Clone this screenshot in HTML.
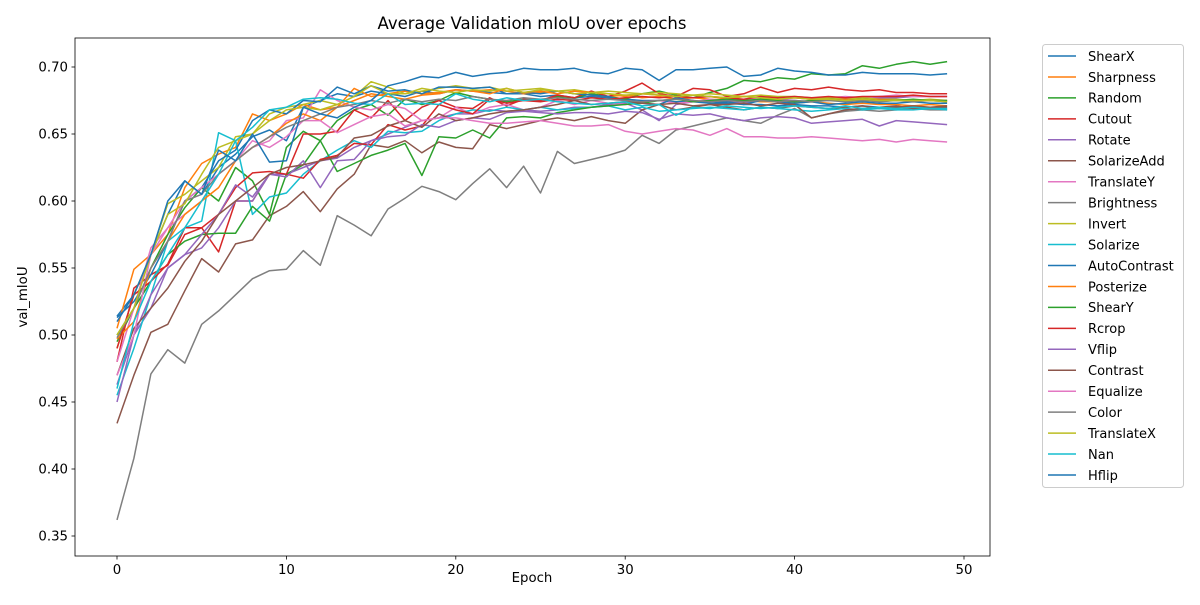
<!DOCTYPE html>
<html><head><meta charset="utf-8"><style>
body{margin:0;background:#fff;}
svg{font-family:"DejaVu Sans","Liberation Sans",sans-serif;}
</style></head><body>
<svg id="c" width="1200" height="600" xmlns="http://www.w3.org/2000/svg"></svg>
<script>
const epochs = Array.from({length:50},(_, i)=>i);
const seriesNames = ["ShearX","Sharpness","Random","Cutout","Rotate","SolarizeAdd","TranslateY","Brightness","Invert","Solarize","AutoContrast","Posterize","ShearY","Rcrop","Vflip","Contrast","Equalize","Color","TranslateX","Nan","Hflip"];
const sShearX=[0.514,0.53,0.56,0.59,0.615,0.605,0.625,0.635,0.648,0.653,0.645,0.67,0.675,0.68,0.678,0.682,0.68,0.678,0.682,0.68,0.683,0.682,0.681,0.68,0.68,0.678,0.679,0.677,0.678,0.677,0.676,0.675,0.675,0.674,0.674,0.673,0.673,0.672,0.672,0.671,0.672,0.671,0.671,0.670,0.671,0.670,0.670,0.670,0.669,0.669];
const sSharpness=[0.505,0.549,0.56,0.575,0.61,0.628,0.635,0.64,0.665,0.66,0.665,0.672,0.668,0.67,0.684,0.678,0.68,0.682,0.68,0.681,0.683,0.682,0.683,0.682,0.68,0.681,0.682,0.68,0.679,0.678,0.679,0.677,0.678,0.676,0.677,0.676,0.675,0.675,0.674,0.674,0.673,0.674,0.673,0.672,0.673,0.672,0.672,0.671,0.672,0.671];
const sRandom=[0.495,0.52,0.55,0.575,0.595,0.61,0.6,0.625,0.615,0.59,0.64,0.652,0.645,0.66,0.668,0.672,0.664,0.676,0.672,0.675,0.681,0.678,0.676,0.674,0.676,0.675,0.678,0.677,0.68,0.678,0.676,0.68,0.682,0.679,0.677,0.681,0.684,0.69,0.689,0.692,0.691,0.695,0.694,0.695,0.701,0.699,0.702,0.704,0.702,0.704];
const sCutout=[0.48,0.535,0.545,0.552,0.575,0.58,0.562,0.6,0.6,0.62,0.62,0.65,0.65,0.652,0.668,0.662,0.675,0.66,0.67,0.675,0.67,0.669,0.677,0.671,0.676,0.675,0.679,0.677,0.682,0.678,0.682,0.688,0.68,0.678,0.684,0.683,0.678,0.68,0.685,0.681,0.684,0.683,0.685,0.683,0.682,0.683,0.681,0.681,0.680,0.680];
const sRotate=[0.463,0.5,0.52,0.55,0.56,0.565,0.58,0.6,0.6,0.62,0.62,0.625,0.63,0.632,0.64,0.645,0.65,0.655,0.66,0.662,0.665,0.665,0.668,0.667,0.668,0.667,0.668,0.670,0.67,0.672,0.673,0.668,0.66,0.672,0.674,0.675,0.674,0.673,0.675,0.676,0.675,0.674,0.676,0.677,0.676,0.677,0.677,0.678,0.678,0.678];
const sSolarizeAdd=[0.434,0.47,0.502,0.508,0.533,0.557,0.547,0.568,0.571,0.589,0.596,0.607,0.592,0.609,0.620,0.642,0.640,0.645,0.636,0.644,0.640,0.639,0.657,0.654,0.657,0.66,0.662,0.66,0.663,0.66,0.658,0.668,0.672,0.668,0.67,0.672,0.67,0.668,0.67,0.669,0.671,0.67,0.669,0.67,0.671,0.669,0.67,0.671,0.67,0.671];
const sTranslateY=[0.48,0.52,0.565,0.58,0.59,0.6,0.62,0.63,0.64,0.645,0.66,0.662,0.683,0.675,0.67,0.668,0.672,0.669,0.66,0.662,0.67,0.665,0.67,0.672,0.668,0.67,0.675,0.672,0.675,0.673,0.672,0.674,0.675,0.673,0.674,0.676,0.675,0.676,0.677,0.676,0.677,0.676,0.677,0.678,0.677,0.678,0.679,0.678,0.678,0.678];
const sBrightness=[0.362,0.408,0.471,0.489,0.479,0.508,0.518,0.530,0.542,0.548,0.549,0.563,0.552,0.589,0.582,0.574,0.594,0.602,0.611,0.607,0.601,0.613,0.624,0.610,0.626,0.606,0.637,0.628,0.631,0.634,0.638,0.649,0.643,0.653,0.656,0.659,0.662,0.660,0.658,0.664,0.669,0.662,0.665,0.667,0.668,0.667,0.668,0.669,0.668,0.668];
const sInvert=[0.49,0.53,0.56,0.598,0.605,0.615,0.625,0.648,0.65,0.665,0.67,0.672,0.675,0.672,0.678,0.689,0.685,0.68,0.682,0.684,0.686,0.684,0.685,0.682,0.683,0.684,0.682,0.683,0.681,0.682,0.681,0.68,0.681,0.680,0.679,0.680,0.679,0.678,0.679,0.678,0.678,0.677,0.677,0.676,0.677,0.676,0.676,0.675,0.676,0.675];
const sSolarize=[0.455,0.49,0.53,0.57,0.58,0.585,0.651,0.645,0.59,0.603,0.606,0.62,0.63,0.638,0.645,0.64,0.652,0.651,0.652,0.66,0.665,0.668,0.667,0.67,0.668,0.67,0.668,0.669,0.67,0.671,0.668,0.67,0.667,0.668,0.669,0.67,0.669,0.668,0.67,0.669,0.668,0.667,0.668,0.669,0.668,0.669,0.668,0.668,0.669,0.668];
const sAutoContrast=[0.513,0.525,0.545,0.57,0.6,0.61,0.63,0.638,0.66,0.668,0.665,0.675,0.674,0.685,0.68,0.686,0.682,0.683,0.68,0.685,0.685,0.684,0.685,0.68,0.681,0.68,0.682,0.68,0.679,0.678,0.675,0.673,0.672,0.677,0.675,0.673,0.674,0.672,0.675,0.674,0.673,0.674,0.672,0.673,0.674,0.673,0.673,0.674,0.673,0.673];
const sPosterize=[0.497,0.51,0.55,0.57,0.59,0.6,0.61,0.63,0.64,0.648,0.658,0.665,0.66,0.67,0.675,0.68,0.678,0.676,0.679,0.68,0.683,0.682,0.68,0.684,0.681,0.682,0.68,0.682,0.681,0.68,0.678,0.68,0.679,0.678,0.677,0.678,0.676,0.678,0.677,0.676,0.677,0.676,0.675,0.676,0.675,0.676,0.675,0.675,0.675,0.675];
const sShearY=[0.5,0.52,0.54,0.56,0.57,0.575,0.576,0.576,0.596,0.585,0.62,0.627,0.645,0.622,0.628,0.634,0.638,0.643,0.619,0.648,0.647,0.653,0.647,0.662,0.663,0.662,0.666,0.668,0.670,0.671,0.672,0.673,0.675,0.676,0.674,0.675,0.676,0.675,0.676,0.675,0.674,0.675,0.676,0.675,0.676,0.675,0.675,0.676,0.675,0.675];
const sRcrop=[0.49,0.53,0.54,0.553,0.58,0.58,0.59,0.61,0.621,0.622,0.62,0.617,0.631,0.634,0.643,0.642,0.657,0.653,0.656,0.672,0.668,0.665,0.676,0.673,0.675,0.674,0.676,0.675,0.677,0.676,0.677,0.678,0.677,0.678,0.677,0.678,0.677,0.676,0.678,0.677,0.678,0.677,0.678,0.677,0.678,0.678,0.678,0.679,0.678,0.678];
const sVflip=[0.45,0.5,0.53,0.55,0.56,0.575,0.59,0.612,0.603,0.62,0.618,0.63,0.61,0.63,0.631,0.645,0.648,0.649,0.657,0.655,0.66,0.662,0.661,0.666,0.667,0.666,0.665,0.666,0.666,0.665,0.667,0.666,0.661,0.665,0.664,0.665,0.662,0.66,0.662,0.663,0.662,0.658,0.659,0.66,0.661,0.656,0.66,0.659,0.658,0.657];
const sContrast=[0.47,0.505,0.52,0.535,0.555,0.57,0.59,0.6,0.61,0.62,0.625,0.627,0.63,0.633,0.647,0.649,0.656,0.66,0.655,0.665,0.66,0.662,0.665,0.667,0.668,0.67,0.672,0.675,0.672,0.673,0.674,0.673,0.672,0.673,0.671,0.672,0.672,0.673,0.671,0.673,0.672,0.662,0.665,0.668,0.669,0.67,0.671,0.669,0.67,0.67];
const sEqualize=[0.47,0.5,0.56,0.58,0.6,0.61,0.62,0.63,0.645,0.64,0.648,0.66,0.66,0.651,0.657,0.663,0.665,0.656,0.66,0.662,0.662,0.66,0.658,0.658,0.659,0.66,0.658,0.656,0.656,0.657,0.652,0.65,0.652,0.654,0.653,0.649,0.654,0.648,0.648,0.647,0.647,0.648,0.647,0.646,0.645,0.646,0.644,0.646,0.645,0.644];
const sColor=[0.498,0.52,0.55,0.57,0.6,0.605,0.62,0.63,0.64,0.648,0.655,0.66,0.665,0.67,0.672,0.675,0.673,0.676,0.674,0.676,0.675,0.678,0.676,0.675,0.677,0.676,0.677,0.676,0.675,0.676,0.675,0.674,0.675,0.676,0.675,0.674,0.675,0.674,0.675,0.674,0.675,0.674,0.675,0.674,0.675,0.674,0.675,0.674,0.675,0.674];
const sTranslateX=[0.5,0.52,0.56,0.59,0.598,0.62,0.64,0.645,0.65,0.66,0.668,0.67,0.668,0.672,0.678,0.686,0.68,0.68,0.684,0.682,0.681,0.683,0.682,0.684,0.681,0.683,0.682,0.68,0.681,0.68,0.679,0.68,0.679,0.678,0.679,0.678,0.677,0.678,0.677,0.676,0.677,0.676,0.676,0.675,0.676,0.675,0.675,0.675,0.675,0.674];
const sNan=[0.46,0.51,0.54,0.56,0.58,0.6,0.62,0.645,0.655,0.668,0.67,0.676,0.677,0.676,0.673,0.672,0.68,0.672,0.673,0.672,0.68,0.676,0.674,0.677,0.675,0.676,0.674,0.673,0.672,0.673,0.674,0.671,0.672,0.664,0.67,0.669,0.671,0.67,0.669,0.67,0.671,0.67,0.669,0.671,0.669,0.67,0.669,0.67,0.669,0.669];
const sHflip=[0.51,0.53,0.56,0.6,0.615,0.605,0.638,0.63,0.65,0.629,0.63,0.67,0.665,0.662,0.67,0.675,0.686,0.689,0.693,0.692,0.696,0.693,0.695,0.696,0.699,0.698,0.698,0.699,0.696,0.695,0.699,0.698,0.69,0.698,0.698,0.699,0.700,0.693,0.694,0.699,0.697,0.696,0.694,0.694,0.696,0.695,0.695,0.695,0.694,0.695];
const seriesValues=[sShearX,sSharpness,sRandom,sCutout,sRotate,sSolarizeAdd,sTranslateY,sBrightness,sInvert,sSolarize,sAutoContrast,sPosterize,sShearY,sRcrop,sVflip,sContrast,sEqualize,sColor,sTranslateX,sNan,sHflip];
const yTicks=[0.35,0.40,0.45,0.50,0.55,0.60,0.65,0.70];
const yTickLabels=["0.35","0.40","0.45","0.50","0.55","0.60","0.65","0.70"];
const xTicks=[0,10,20,30,40,50];

const palette=["#1f77b4","#ff7f0e","#2ca02c","#d62728","#9467bd","#8c564b","#e377c2","#7f7f7f","#bcbd22","#17becf"];
const L=75,R=990,T=38,B=556;
const xs=v=>117+v*16.94;
const ys=v=>67+(0.70-v)*1340;
const svg=document.getElementById('c');
const NS="http://www.w3.org/2000/svg";
function mk(tag,attrs,parent){const e=document.createElementNS(NS,tag);for(const k in attrs)e.setAttribute(k,attrs[k]);(parent||svg).appendChild(e);return e;}

const title=mk('text',{x:532,y:29,'text-anchor':'middle','font-size':16.5,fill:'#000'});
title.textContent="Average Validation mIoU over epochs";



const clip=mk('clipPath',{id:'pc'});mk('rect',{x:L,y:T,width:R-L,height:B-T},clip);

const lines=mk('g',{'clip-path':'url(#pc)'});


seriesValues.forEach((vals,i)=>{
  const d=vals.map((v,j)=>(j?'L':'M')+xs(epochs[j]).toFixed(1)+','+ys(v).toFixed(1)).join('');
  const p=mk('path',{d:d,fill:'none',stroke:palette[i%10],'stroke-width':1.5,'stroke-linejoin':'round'},lines);
  
  
});

const frame=mk('rect',{x:L,y:T,width:R-L,height:B-T,fill:'none',stroke:'#000','stroke-width':0.8});



yTicks.forEach((v,i)=>{
  const y=ys(v);
  mk('line',{x1:L-3.5,x2:L,y1:y,y2:y,stroke:'#000','stroke-width':0.8});
  const t=mk('text',{x:L-7,y:y+4.5,'text-anchor':'end','font-size':13.3});
  t.textContent=yTickLabels[i];
  
  
});
xTicks.forEach(v=>{
  const x=xs(v);
  mk('line',{x1:x,x2:x,y1:B,y2:B+3.5,stroke:'#000','stroke-width':0.8});
  const t=mk('text',{x:x,y:B+18,'text-anchor':'middle','font-size':13.3});
  t.textContent=String(v);
  
  
});
const xt=mk('text',{x:532,y:582,'text-anchor':'middle','font-size':13.3});
xt.textContent="Epoch";


const yt=mk('text',{x:27,y:297,'text-anchor':'middle','font-size':13.3,transform:'rotate(-90 27 297)'});
yt.textContent="val_mIoU";



const lg=mk('g',{});


mk('rect',{x:1042.5,y:44.5,width:141,height:443,rx:3,fill:'#fff',stroke:'#ccc'},lg);
seriesNames.forEach((n,i)=>{
  const y=56+i*20.95;
  const g=mk('g',{},lg);
  
  
  mk('line',{x1:1048,x2:1076,y1:y,y2:y,stroke:palette[i%10],'stroke-width':1.5},g);
  const t=mk('text',{x:1088,y:y+4.8,'font-size':13},g);
  t.textContent=n;
});
</script>
</body></html>
